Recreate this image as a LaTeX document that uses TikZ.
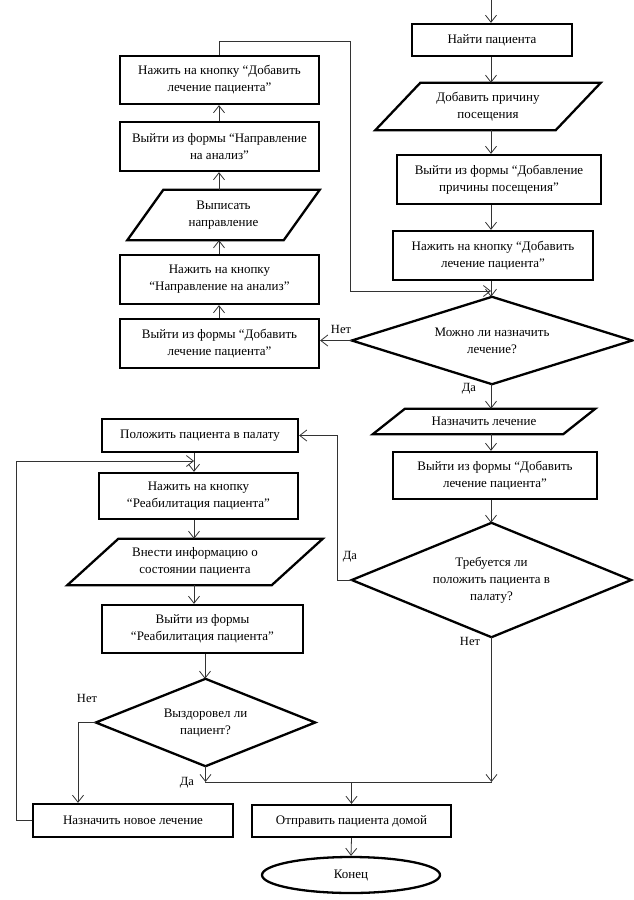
\documentclass[tikz,border=0pt]{standalone}
\usepackage{fontspec}
\setmainfont{Liberation Serif}
\usetikzlibrary{shapes.geometric,arrows.meta,calc}
\newcommand\myparal[2]{\draw[outline] ([xshift=#2pt]#1.north west) -- ([xshift=#2pt]#1.north east) -- ([xshift=-#2pt]#1.south east) -- ([xshift=-#2pt]#1.south west) -- cycle;}
\newcommand\mydiam[1]{\draw[outline] (#1.north) -- (#1.east) -- (#1.south) -- (#1.west) -- cycle;}
\begin{document}
\begin{tikzpicture}[x=1pt,y=-1pt,
  every node/.style={font=\fontsize{13}{17}\selectfont, align=center, inner sep=0pt},
  outline/.style={line width=2.3pt, line join=miter},
  proc/.style={draw, outline, rectangle},
  shape only/.style={rectangle},
  term/.style={draw, outline, ellipse},
  conn/.style={line width=0.8pt, draw=black!80},
  arr/.style={conn, -{Straight Barb[length=7pt,width=11pt,line width=0.8pt]}},
  lbl/.style={font=\fontsize{12.5}{15}\selectfont}]
\useasboundingbox (0,0) rectangle (633,900);
% column reference coordinates
\coordinate (rc) at (491,0);
\coordinate (lc) at (219,0);
\coordinate (ll) at (194,0);
\coordinate (dc) at (205,0);
\coordinate (start) at (491,0);
% right column
\node[proc, minimum width=160pt, minimum height=32pt] (find) at (492,40) {Найти пациента};
\node[shape only, minimum width=180pt, minimum height=47pt] (reason) at (488,106.5) {Добавить причину\\посещения};
\myparal{reason}{22.5}
\node[proc, minimum width=204pt, minimum height=49pt] (exitreason) at (499,179.5) {Выйти из формы “Добавление\\причины посещения”};
\node[proc, minimum width=200pt, minimum height=49pt] (pushadd) at (493,255.5) {Нажить на кнопку “Добавить\\лечение пациента”};
\node[shape only, minimum width=280pt, minimum height=87pt] (d1) at (492,340.5) {Можно ли назначить\\лечение?};
\mydiam{d1}
\node[shape only, minimum width=190pt, minimum height=25pt] (assign) at (484,421.5) {Назначить лечение};
\myparal{assign}{16}
\node[proc, minimum width=204pt, minimum height=47pt] (exitadd) at (495,475.5) {Выйти из формы “Добавить\\лечение пациента”};
\node[shape only, minimum width=279pt, minimum height=114pt] (d2) at (491.5,580) {Требуется ли\\положить пациента в\\палату?};
\mydiam{d2}
% left column
\node[proc, minimum width=199pt, minimum height=48pt] (L1) at (219.5,80) {Нажить на кнопку “Добавить\\лечение пациента”};
\node[proc, minimum width=199pt, minimum height=49pt] (L2) at (219.5,146.5) {Выйти из формы “Направление\\на анализ”};
\node[shape only, minimum width=156pt, minimum height=50pt] (L3) at (223.5,215) {Выписать\\направление};
\myparal{L3}{18}
\node[proc, minimum width=199pt, minimum height=49pt] (L4) at (219.5,279.5) {Нажить на кнопку\\“Направление на анализ”};
\node[proc, minimum width=199pt, minimum height=49pt] (L5) at (219.5,343.5) {Выйти из формы “Добавить\\лечение пациента”};
% lower left
\node[proc, minimum width=196pt, minimum height=33pt] (ward) at (200,435.5) {Положить пациента в палату};
\node[proc, minimum width=199pt, minimum height=46pt] (rehab) at (198.5,496) {Нажить на кнопку\\“Реабилитация пациента”};
\node[shape only, minimum width=204pt, minimum height=46pt] (info) at (195,562) {Внести информацию о\\состоянии пациента};
\myparal{info}{25.5}
\node[proc, minimum width=201pt, minimum height=48pt] (exitrehab) at (202.5,629) {Выйти из формы\\“Реабилитация пациента”};
\node[shape only, minimum width=219pt, minimum height=87pt] (d3) at (205.5,722.5) {Выздоровел ли\\пациент?};
\mydiam{d3}
\node[proc, minimum width=200pt, minimum height=33pt] (newtreat) at (133,820.5) {Назначить новое лечение};
\node[proc, minimum width=199pt, minimum height=32pt] (home) at (351.5,821) {Отправить пациента домой};
\node[term, minimum width=178pt, minimum height=36pt] (end) at (351,875) {Конец};
% helper coordinates
\coordinate (join) at (491,291);
\coordinate (c1) at (350,41);
\coordinate (c2) at (337,580);
\coordinate (c3) at (16,461);
\coordinate (c4) at (78,0);
\coordinate (m1) at (205,782);
\coordinate (m2) at (491.5,782);
% connectors right column
\draw[arr] (start) -- (find.north -| rc);
\draw[arr] (find.south -| rc) -- (reason.north -| rc);
\draw[arr] (reason.south -| rc) -- (exitreason.north -| rc);
\draw[arr] (exitreason.south -| rc) -- (pushadd.north -| rc);
\draw[arr] (pushadd.south -| rc) -- (d1.north -| rc);
\draw[arr] (L1.north -| lc) |- (c1) -- (c1 |- join) -- (join);
\draw[arr] (d1.south -| rc) -- (assign.north -| rc);
\draw[arr] (assign.south -| rc) -- (exitadd.north -| rc);
\draw[arr] (exitadd.south -| rc) -- (d2.north -| rc);
% left column
\draw[arr] (d1.west) -- (d1.west -| L5.east);
\draw[arr] (L5.north -| lc) -- (L4.south -| lc);
\draw[arr] (L4.north -| lc) -- (L3.south -| lc);
\draw[arr] (L3.north -| lc) -- (L2.south -| lc);
\draw[arr] (L2.north -| lc) -- (L1.south -| lc);
% yes branch to ward
\draw[arr] (d2.west) -- (c2) |- (ward.east);
% lower left chain
\draw[arr] (ward.south -| ll) -- (rehab.north -| ll);
\draw[arr] (newtreat.west) -| (c3) -- (c3 -| ll);
\draw[arr] (rehab.south -| ll) -- (info.north -| ll);
\draw[arr] (info.south -| ll) -- (exitrehab.north -| ll);
\draw[arr] (exitrehab.south -| dc) -- (d3.north -| dc);
\draw[arr] (d3.west) -| (newtreat.north -| c4);
\draw[arr] (d3.south) -- (d3.south |- m1);
\draw[arr] (d2.south) -- (m2);
\draw[conn] (m1) -- (m2);
\draw[arr] (m1 -| home.north) -- (home.north);
\draw[arr] (home.south) -- (end.north);
% labels
\node[lbl] (no1) at (341,329) {Нет};
\node[lbl] (yes1) at (469,389) {Да};
\node[lbl] (yes2) at (350,557) {Да};
\node[lbl] (no2) at (470,641) {Нет};
\node[lbl] (no3) at (87,698) {Нет};
\node[lbl] (yes3) at (187,783) {Да};
\end{tikzpicture}
\end{document}
